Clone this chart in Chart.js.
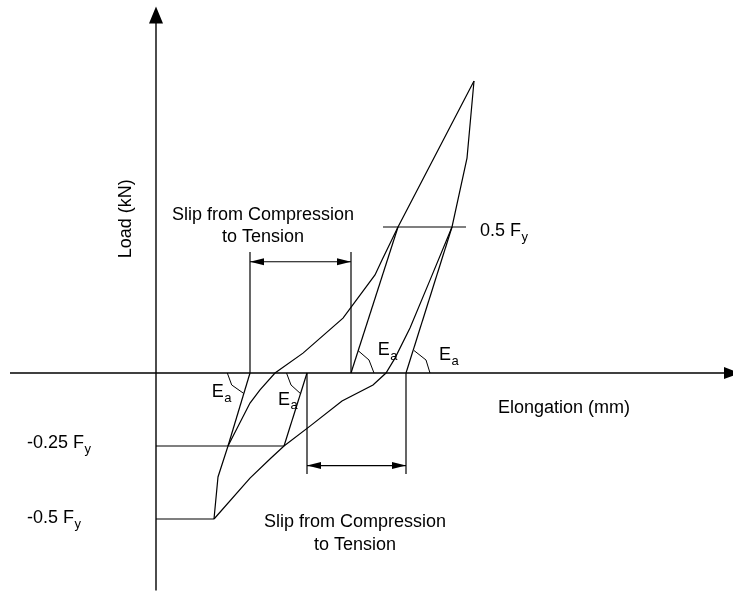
<!DOCTYPE html>
<html>
<head>
<meta charset="utf-8">
<script src="https://cdn.jsdelivr.net/npm/chart.js@4/dist/chart.umd.min.js"></script>
<style>
  html, body { margin: 0; padding: 0; background: #fff; }
  #wrap { width: 733px; height: 592px; }
</style>
</head>
<body>
<div id="wrap"><canvas id="c" width="733" height="592"></canvas></div>
<script>
// Elongation in mm (schematic), load as a fraction of Fy.

// Tension loading branch: from -0.5 Fy up to the peak
const loadElong = [5.8, 6.2, 7.2, 9.4, 10.4, 11.9, 14.7, 18.7, 21.9, 22.6, 24.2, 31.8];
const loadForce = [-0.5, -0.356, -0.25, -0.103, -0.058, 0, 0.068, 0.188, 0.336, 0.387, 0.5, 1.0];

// Unloading / compression branch: from the peak back to -0.5 Fy
const unloadElong = [31.8, 31.1, 29.6, 27.4, 25.4, 23.9, 23.0, 21.7, 18.6, 15.4, 12.8, 11.5, 9.4, 5.8];
const unloadForce = [1.0, 0.736, 0.5, 0.318, 0.154, 0.051, 0, -0.041, -0.096, -0.182, -0.25, -0.291, -0.36, -0.5];

// Straight lines with the elastic slope Ea
const eaCompOuterElong = [7.2, 9.4];
const eaCompOuterForce = [-0.25, 0];
const eaCompInnerElong = [12.8, 15.1];
const eaCompInnerForce = [-0.25, 0];
const eaTensLoadElong = [19.5, 24.2];
const eaTensLoadForce = [0, 0.5];
const eaTensUnloadElong = [25.0, 29.6];
const eaTensUnloadForce = [0, 0.5];

// Reference load levels
const levelHalfElong = [22.7, 31.0];
const levelHalfForce = [0.5, 0.5];
const levelQuarterElong = [0, 12.8];
const levelQuarterForce = [-0.25, -0.25];
const levelNegHalfElong = [0, 5.8];
const levelNegHalfForce = [-0.5, -0.5];

// Angle marks for Ea
const arcT1Elong = [20.2, 21.3, 21.8];
const arcT1Force = [0.077, 0.0445, 0];
const arcT2Elong = [25.8, 27.0, 27.4];
const arcT2Force = [0.077, 0.0445, 0];
const arcC1Elong = [7.13, 7.57, 8.75];
const arcC1Force = [0, -0.041, -0.0695];
const arcC2Elong = [13.05, 13.5, 14.45];
const arcC2Force = [0, -0.041, -0.0705];

// Slip dimensions (extension lines at the Ea axis crossings)
const slipUpperElong = [9.4, 19.5];
const slipUpperTop = 0.414;
const slipUpperDim = 0.381;
const slipLowerElong = [15.1, 25.0];
const slipLowerBottom = -0.346;
const slipLowerDim = -0.317;

// Axes
const axisXElong = [-14.6, 57.2];
const axisYForce = [-0.745, 1.2];

const xMin = -15.6, xMax = 57.7, yMin = -0.75, yMax = 1.2774;

function zip(xs, ys) { return xs.map((x, i) => ({ x: x, y: ys[i] })); }
function seg(data, w) {
  return { data: data, showLine: true, borderColor: '#000', borderWidth: w || 1.2,
           pointRadius: 0, fill: false, tension: 0 };
}

const datasets = [
  seg(zip(axisXElong, [0, 0]), 1.4),
  seg(zip([0, 0], axisYForce), 1.4),
  seg(zip(loadElong, loadForce)),
  seg(zip(unloadElong, unloadForce)),
  seg(zip(eaCompOuterElong, eaCompOuterForce)),
  seg(zip(eaCompInnerElong, eaCompInnerForce)),
  seg(zip(eaTensLoadElong, eaTensLoadForce)),
  seg(zip(eaTensUnloadElong, eaTensUnloadForce)),
  seg(zip(levelHalfElong, levelHalfForce)),
  seg(zip(levelQuarterElong, levelQuarterForce)),
  seg(zip(levelNegHalfElong, levelNegHalfForce)),
  seg(zip(arcT1Elong, arcT1Force), 1),
  seg(zip(arcT2Elong, arcT2Force), 1),
  seg(zip(arcC1Elong, arcC1Force), 1),
  seg(zip(arcC2Elong, arcC2Force), 1),
  seg(zip([slipUpperElong[0], slipUpperElong[0]], [0, slipUpperTop])),
  seg(zip([slipUpperElong[1], slipUpperElong[1]], [0, slipUpperTop])),
  seg(zip(slipUpperElong, [slipUpperDim, slipUpperDim])),
  seg(zip([slipLowerElong[0], slipLowerElong[0]], [0, slipLowerBottom])),
  seg(zip([slipLowerElong[1], slipLowerElong[1]], [0, slipLowerBottom])),
  seg(zip(slipLowerElong, [slipLowerDim, slipLowerDim]))
];

// Text placed in data coordinates
const FONT = '"Liberation Sans", Arial, sans-serif';
const SIZE = 18;
const texts = [
  { t: 'Slip from Compression', x: 10.7, y: 0.541, align: 'center' },
  { t: 'to Tension', x: 10.7, y: 0.466, align: 'center' },
  { t: 'Slip from Compression', x: 19.9, y: -0.51, align: 'center' },
  { t: 'to Tension', x: 19.9, y: -0.59, align: 'center' },
  { t: 'Elongation (mm)', x: 34.2, y: -0.12, align: 'left' }
];
const subTexts = [
  { main: '0.5 F', sub: 'y', x: 32.4, y: 0.486 },
  { main: '-0.25 F', sub: 'y', x: -12.9, y: -0.24 },
  { main: '-0.5 F', sub: 'y', x: -12.9, y: -0.497 },
  { main: 'E', sub: 'a', x: 22.17, y: 0.077 },
  { main: 'E', sub: 'a', x: 28.3, y: 0.06 },
  { main: 'E', sub: 'a', x: 5.57, y: -0.065 },
  { main: 'E', sub: 'a', x: 12.2, y: -0.091 }
];
const yTitle = { t: 'Load (kN)', x: -3.0, y: 0.528 };

function arrowHead(ctx, tipX, tipY, dx, dy, len, half) {
  // dx, dy: unit direction the arrow points toward
  const bx = tipX - dx * len, by = tipY - dy * len;
  const px = -dy, py = dx;
  ctx.beginPath();
  ctx.moveTo(tipX, tipY);
  ctx.lineTo(bx + px * half, by + py * half);
  ctx.lineTo(bx - px * half, by - py * half);
  ctx.closePath();
  ctx.fill();
}

const decor = {
  id: 'decor',
  afterDatasetsDraw(chart) {
    const ctx = chart.ctx;
    const sx = chart.scales.x, sy = chart.scales.y;
    const X = v => sx.getPixelForValue(v), Y = v => sy.getPixelForValue(v);
    ctx.save();
    ctx.fillStyle = '#000';
    // axis arrowheads
    arrowHead(ctx, X(0), Y(axisYForce[1]) - 16, 0, -1, 17, 7);
    arrowHead(ctx, X(axisXElong[1]) + 12, Y(0), 1, 0, 16, 6);
    // slip dimension arrowheads
    const yu = Y(slipUpperDim);
    arrowHead(ctx, X(slipUpperElong[0]), yu, -1, 0, 14, 3.5);
    arrowHead(ctx, X(slipUpperElong[1]), yu, 1, 0, 14, 3.5);
    const yl = Y(slipLowerDim);
    arrowHead(ctx, X(slipLowerElong[0]), yl, -1, 0, 14, 3.5);
    arrowHead(ctx, X(slipLowerElong[1]), yl, 1, 0, 14, 3.5);

    ctx.textBaseline = 'middle';
    ctx.font = SIZE + 'px ' + FONT;
    texts.forEach(o => {
      ctx.textAlign = o.align;
      ctx.fillText(o.t, X(o.x), Y(o.y));
    });
    ctx.textAlign = 'left';
    subTexts.forEach(o => {
      ctx.font = SIZE + 'px ' + FONT;
      const x0 = X(o.x), y0 = Y(o.y);
      ctx.fillText(o.main, x0, y0);
      const w = ctx.measureText(o.main).width;
      ctx.font = '13px ' + FONT;
      ctx.fillText(o.sub, x0 + w + 0.5, y0 + 6);
    });
    ctx.font = SIZE + 'px ' + FONT;
    ctx.translate(X(yTitle.x), Y(yTitle.y));
    ctx.rotate(-Math.PI / 2);
    ctx.textAlign = 'center';
    ctx.fillText(yTitle.t, 0, 0);
    ctx.restore();
  }
};

new Chart(document.getElementById('c'), {
  type: 'scatter',
  data: { datasets: datasets },
  options: {
    responsive: false,
    animation: false,
    devicePixelRatio: 1,
    layout: { padding: 0 },
    plugins: { legend: { display: false }, tooltip: { enabled: false } },
    scales: {
      x: { type: 'linear', min: xMin, max: xMax, display: false },
      y: { type: 'linear', min: yMin, max: yMax, display: false }
    },
    clip: false
  },
  plugins: [decor]
});
</script>
</body>
</html>
